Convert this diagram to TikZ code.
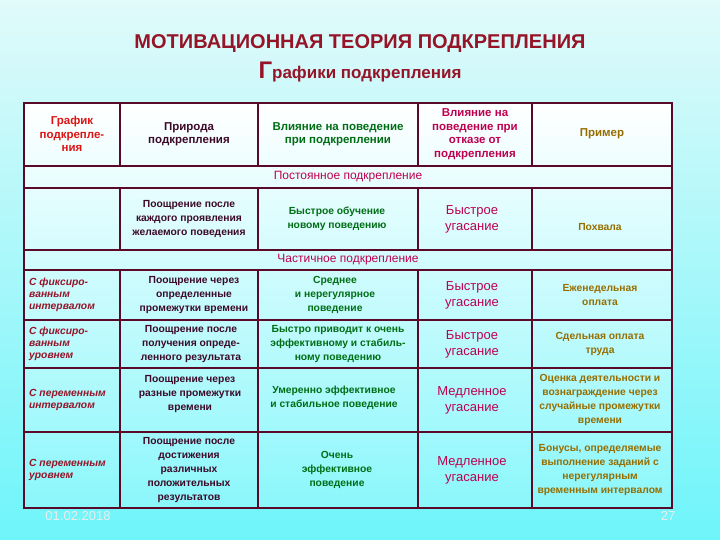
\documentclass[tikz,border=0pt]{standalone}
\usepackage{fontspec}
\setmainfont{Liberation Sans}
\usetikzlibrary{positioning}
\definecolor{tred}{RGB}{150,20,40}
\definecolor{cred}{RGB}{220,20,20}
\definecolor{cdark}{RGB}{60,10,40}
\definecolor{cgreen}{RGB}{0,110,20}
\definecolor{cmag}{RGB}{190,0,80}
\definecolor{colive}{RGB}{150,110,0}
\definecolor{grid}{RGB}{90,10,40}
\definecolor{cyanbg}{RGB}{110,245,250}
\definecolor{lightbg}{RGB}{225,250,250}
\begin{document}
\begin{tikzpicture}[x=1pt,y=-1pt,
 cell/.style={align=center,font=\fontsize{10.3}{14.2}\selectfont\bfseries,inner sep=1pt},
 hd/.style={align=center,font=\fontsize{11.5}{13.5}\selectfont\bfseries,inner sep=1pt},
 big/.style={align=center,font=\fontsize{13}{16}\selectfont,inner sep=1pt},
 lab/.style={align=left,anchor=west,font=\fontsize{10.3}{12}\selectfont\bfseries\itshape,inner sep=1pt}]
\shade[top color=lightbg,bottom color=cyanbg] (0,0) rectangle (720,540);
\useasboundingbox (0,0) rectangle (720,540);
\shade[top color=white,bottom color=cyanbg!80] (24,103) rectangle (672,508);
\node[font=\fontsize{20}{24}\selectfont\bfseries,text=tred] (title) at (360,44) {МОТИВАЦИОННАЯ ТЕОРИЯ ПОДКРЕПЛЕНИЯ};
\node[font=\fontsize{17}{22}\selectfont\bfseries,text=tred] (sub) at (360,72) {{\fontsize{24}{26}\selectfont Г}рафики подкрепления};
% grid
\draw[grid,line width=2pt] (24,103) rectangle (672,508);
\foreach \y in {166,188,250,270,320,368,432} \draw[grid,line width=1.5pt] (24,\y) -- (672,\y);
\foreach \x in {120,258,418,532} {
 \draw[grid,line width=1.5pt] (\x,103) -- (\x,166);
 \draw[grid,line width=1.5pt] (\x,188) -- (\x,250);
 \draw[grid,line width=1.5pt] (\x,270) -- (\x,508);}
% header
\node[hd,text=cred] (h1) at (72,134) {График\\подкрепле-\\ния};
\node[hd,text=cdark] (h2) at (189,134) {Природа\\подкрепления};
\node[hd,text=cgreen] (h3) at (338,134) {Влияние на поведение\\при подкреплении};
\node[hd,text=cmag] (h4) at (475,134) {Влияние на\\поведение при\\отказе от\\подкрепления};
\node[hd,text=colive] (h5) at (602,134) {Пример};
\node[big,text=cmag,font=\fontsize{12}{14}\selectfont] (s1) at (348,177) {Постоянное подкрепление};
\node[big,text=cmag,font=\fontsize{12}{14}\selectfont] (s2) at (348,260) {Частичное подкрепление};
% row 1
\node[cell,text=cdark] (a2) at (189,219) {Поощрение после\\каждого проявления\\желаемого поведения};
\node[cell,text=cgreen] (a3) at (337,219) {Быстрое обучение\\новому поведению};
\node[big,text=cmag] (a4) at (472,219) {Быстрое\\угасание};
\node[cell,text=colive] (a5) at (600,227) {Похвала};
% row 2
\node[lab,text=tred] (b1) at (28,295) {С фиксиро-\\ванным\\интервалом};
\node[cell,text=cdark] (b2) at (194,295) {Поощрение через\\определенные\\промежутки времени};
\node[cell,text=cgreen] (b3) at (335,295) {Среднее\\и нерегулярное\\поведение};
\node[big,text=cmag] (b4) at (472,295) {Быстрое\\угасание};
\node[cell,text=colive] (b5) at (600,295) {Еженедельная\\оплата};
% row 3
\node[lab,text=tred] (c1) at (28,344) {С фиксиро-\\ванным\\уровнем};
\node[cell,text=cdark] (c2) at (191,344) {Поощрение после\\получения опреде-\\ленного результата};
\node[cell,text=cgreen] (c3) at (338,344) {Быстро приводит к очень\\эффективному и стабиль-\\ному поведению};
\node[big,text=cmag] (c4) at (472,344) {Быстрое\\угасание};
\node[cell,text=colive] (c5) at (600,344) {Сдельная оплата\\труда};
% row 4
\node[lab,text=tred] (d1) at (28,400) {С переменным\\интервалом};
\node[cell,text=cdark] (d2) at (190,394) {Поощрение через\\разные промежутки\\времени};
\node[cell,text=cgreen] (d3) at (334,398) {Умеренно эффективное\\и стабильное поведение};
\node[big,text=cmag] (d4) at (472,400) {Медленное\\угасание};
\node[cell,text=colive] (d5) at (600,400) {Оценка деятельности и\\вознаграждение через\\случайные промежутки\\времени};
% row 5
\node[lab,text=tred] (e1) at (28,470) {С переменным\\уровнем};
\node[cell,text=cdark] (e2) at (189,470) {Поощрение после\\достижения\\различных\\положительных\\результатов};
\node[cell,text=cgreen] (e3) at (337,470) {Очень\\эффективное\\поведение};
\node[big,text=cmag] (e4) at (472,470) {Медленное\\угасание};
\node[cell,text=colive] (e5) at (600,470) {Бонусы, определяемые\\выполнение заданий с\\нерегулярным\\временным интервалом};
\node[font=\fontsize{13}{15}\selectfont,text=white!85!gray] (date) at (78,516) {01.02.2018};
\node[font=\fontsize{13}{15}\selectfont,text=white!85!gray] (pg) at (668,516) {27};
\end{tikzpicture}
\end{document}
